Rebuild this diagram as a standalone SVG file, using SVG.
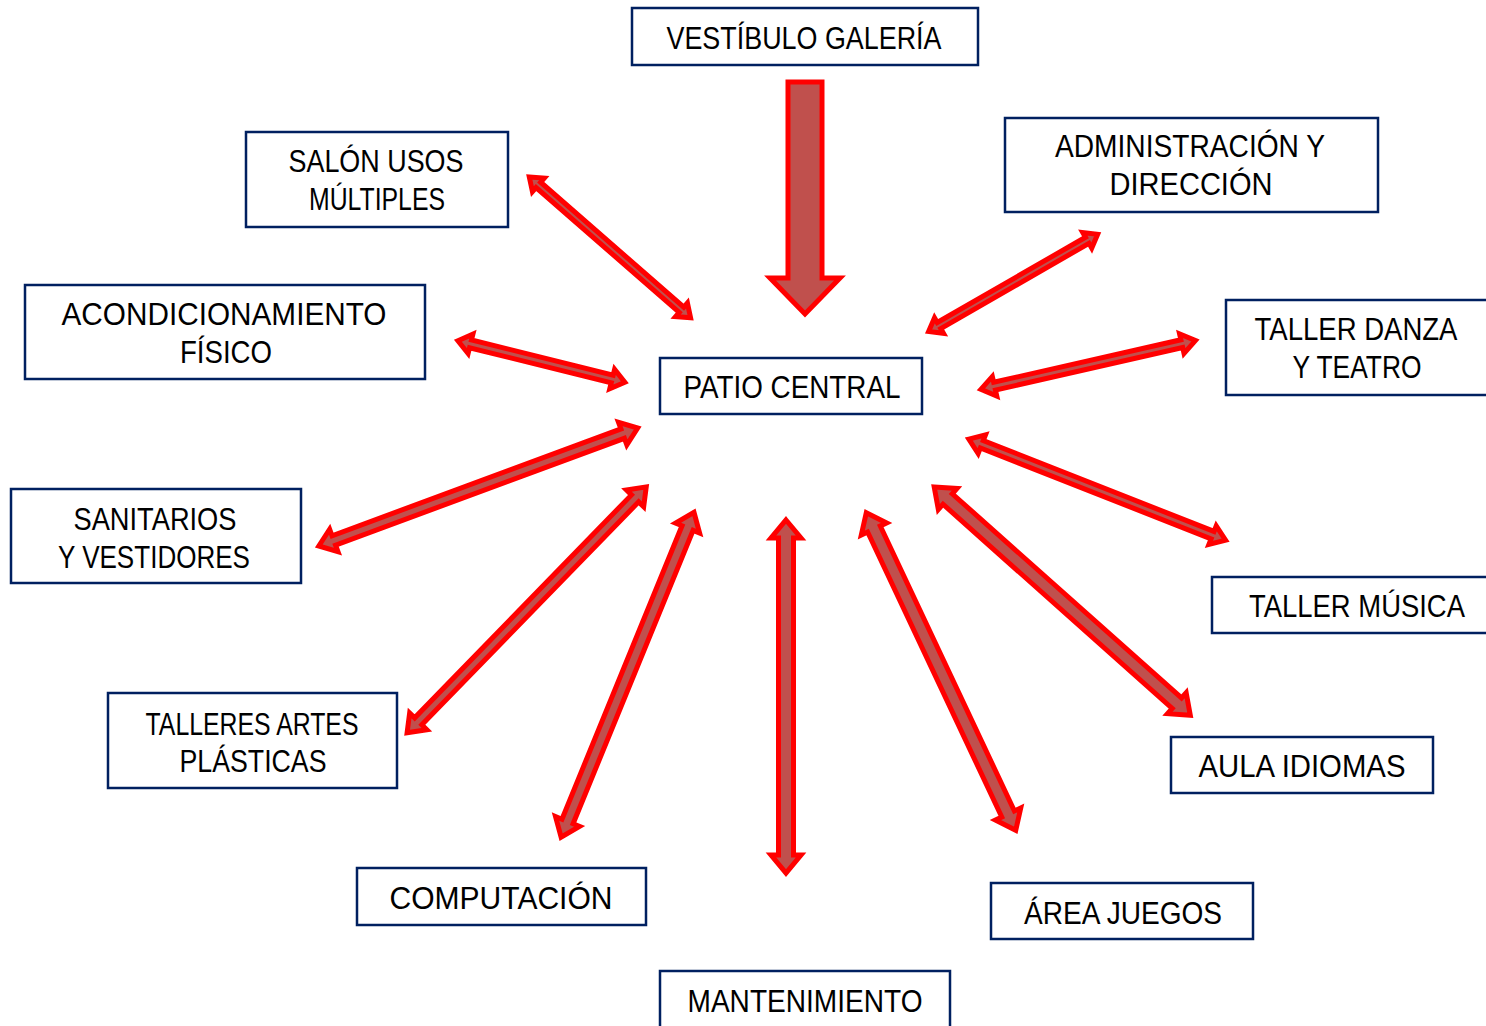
<svg xmlns="http://www.w3.org/2000/svg" width="1486" height="1026" viewBox="0 0 1486 1026">
<style>
.box{fill:#fff;stroke:#002060;stroke-width:2.5}
.t{font-family:"Liberation Sans",Arial,sans-serif;font-size:31px;fill:#000;text-anchor:middle}
.ar{fill:#c0504d;stroke:#ff0000;stroke-width:5;stroke-linejoin:miter}
</style>
<rect width="1486" height="1026" fill="#fff"/>
<g id="connectors">
<polygon class="ar" points="788,82 822,82 822,278 840,278 805,314 770,278 788,278"/>
<polygon class="ar" transform="translate(529.3,177) rotate(41.1)" points="0,0 12,-9 12,-3.5 202,-3.5 202,-9 214,0 202,9 202,3.5 12,3.5 12,9"/>
<polygon class="ar" transform="translate(928.6,331.5) rotate(-29.9)" points="0,0 12,-9 12,-3.5 183,-3.5 183,-9 195,0 183,9 183,3.5 12,3.5 12,9"/>
<polygon class="ar" transform="translate(457.9,340.7) rotate(13.96)" points="0,0 13,-10 13,-4 159,-4 159,-10 172,0 159,10 159,4 13,4 13,10"/>
<polygon class="ar" transform="translate(980.9,389.3) rotate(-12.8)" points="0,0 14,-10 14,-4 206,-4 206,-10 220,0 206,10 206,4 14,4 14,10"/>
<polygon class="ar" transform="translate(318.8,546) rotate(-20.3)" points="0,0 16,-12 16,-5 324,-5 324,-12 340,0 324,12 324,5 16,5 16,12"/>
<polygon class="ar" transform="translate(968.8,439.1) rotate(21.5)" points="0,0 14,-10 14,-4 262,-4 262,-10 276,0 262,10 262,4 14,4 14,10"/>
<polygon class="ar" transform="translate(407.1,732.8) rotate(-45.8)" points="0,0 16,-12 16,-5 327,-5 327,-12 343,0 327,12 327,5 16,5 16,12"/>
<polygon class="ar" transform="translate(561.1,837.2) rotate(-67.75)" points="0,0 17,-13 17,-6 334,-6 334,-13 351,0 334,13 334,6 17,6 17,13"/>
<polygon class="ar" transform="translate(786,520) rotate(90)" points="0,0 18,-15 18,-7.5 335,-7.5 335,-15 353,0 335,15 335,7.5 18,7.5 18,15"/>
<polygon class="ar" transform="translate(866.3,512.7) rotate(64.8)" points="0,0 18,-14 18,-7 333,-7 333,-14 351,0 333,14 333,7 18,7 18,14"/>
<polygon class="ar" transform="translate(934.2,487) rotate(41.7)" points="0,0 18,-14 18,-7 325,-7 325,-14 343,0 325,14 325,7 18,7 18,14"/>
</g>
<g id="vestibulo"><rect class="box" x="632" y="8" width="346" height="57"/><text class="t" x="804" y="49" textLength="275" lengthAdjust="spacingAndGlyphs">VESTÍBULO GALERÍA</text></g>
<g id="salon"><rect class="box" x="246" y="132" width="262" height="95"/><text class="t" x="376" y="172" textLength="175" lengthAdjust="spacingAndGlyphs">SALÓN USOS</text><text class="t" x="377" y="210" textLength="136" lengthAdjust="spacingAndGlyphs">MÚLTIPLES</text></g>
<g id="administracion"><rect class="box" x="1005" y="118" width="373" height="94"/><text class="t" x="1190" y="157" textLength="270" lengthAdjust="spacingAndGlyphs">ADMINISTRACIÓN Y</text><text class="t" x="1191" y="195" textLength="163" lengthAdjust="spacingAndGlyphs">DIRECCIÓN</text></g>
<g id="acondicionamiento"><rect class="box" x="25" y="285" width="400" height="94"/><text class="t" x="224" y="325" textLength="325" lengthAdjust="spacingAndGlyphs">ACONDICIONAMIENTO</text><text class="t" x="226" y="363" textLength="92" lengthAdjust="spacingAndGlyphs">FÍSICO</text></g>
<g id="danza"><rect class="box" x="1226" y="300" width="262" height="95"/><text class="t" x="1356" y="340" textLength="203" lengthAdjust="spacingAndGlyphs">TALLER DANZA</text><text class="t" x="1357" y="378" textLength="129" lengthAdjust="spacingAndGlyphs">Y TEATRO</text></g>
<g id="patio"><rect class="box" x="660" y="358" width="262" height="56"/><text class="t" x="792" y="398" textLength="217" lengthAdjust="spacingAndGlyphs">PATIO CENTRAL</text></g>
<g id="sanitarios"><rect class="box" x="11" y="489" width="290" height="94"/><text class="t" x="155" y="530" textLength="163" lengthAdjust="spacingAndGlyphs">SANITARIOS</text><text class="t" x="154" y="568" textLength="192" lengthAdjust="spacingAndGlyphs">Y VESTIDORES</text></g>
<g id="musica"><rect class="box" x="1212" y="577" width="276" height="56"/><text class="t" x="1357" y="617" textLength="216" lengthAdjust="spacingAndGlyphs">TALLER MÚSICA</text></g>
<g id="artes"><rect class="box" x="108" y="693" width="289" height="95"/><text class="t" x="252" y="735" textLength="213" lengthAdjust="spacingAndGlyphs">TALLERES ARTES</text><text class="t" x="253" y="772" textLength="147" lengthAdjust="spacingAndGlyphs">PLÁSTICAS</text></g>
<g id="idiomas"><rect class="box" x="1171" y="737" width="262" height="56"/><text class="t" x="1302" y="777" textLength="207" lengthAdjust="spacingAndGlyphs">AULA IDIOMAS</text></g>
<g id="computacion"><rect class="box" x="357" y="868" width="289" height="57"/><text class="t" x="501" y="909" textLength="223" lengthAdjust="spacingAndGlyphs">COMPUTACIÓN</text></g>
<g id="juegos"><rect class="box" x="991" y="883" width="262" height="56"/><text class="t" x="1123" y="924" textLength="198" lengthAdjust="spacingAndGlyphs">ÁREA JUEGOS</text></g>
<g id="mantenimiento"><rect class="box" x="660" y="971" width="290" height="70"/><text class="t" x="805" y="1012" textLength="235" lengthAdjust="spacingAndGlyphs">MANTENIMIENTO</text></g>
</svg>
